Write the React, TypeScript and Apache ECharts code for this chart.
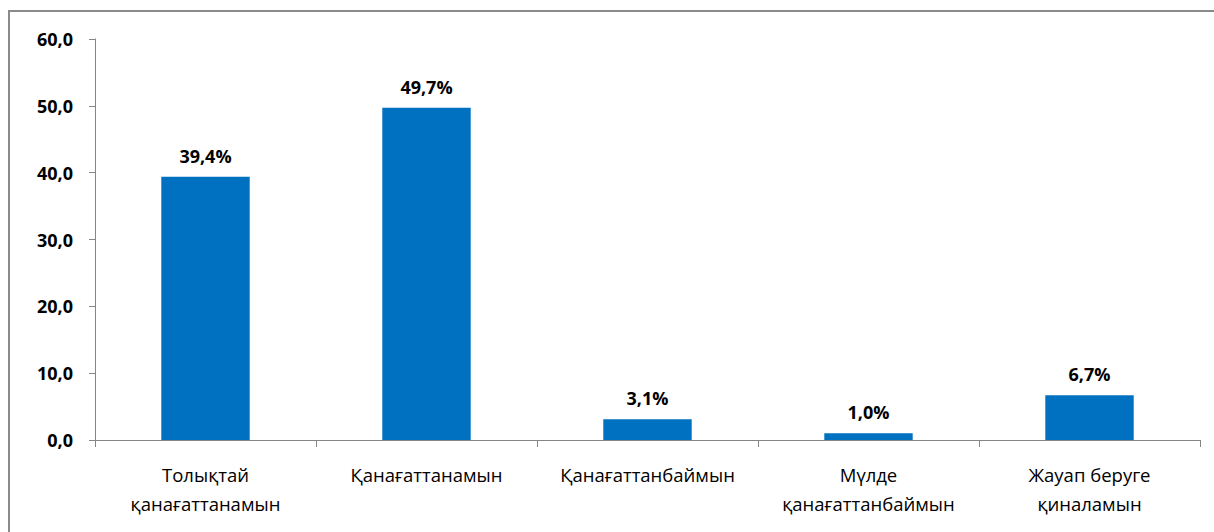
import React, { useEffect, useRef } from "react";
import * as echarts from "echarts";

const categories = [
  "Толықтай\nқанағаттанамын",
  "Қанағаттанамын",
  "Қанағаттанбаймын",
  "Мүлде\nқанағаттанбаймын",
  "Жауап беруге\nқиналамын",
];
const values = [39.4, 49.7, 3.1, 1.0, 6.7];
const yMin = 0;
const yMax = 60;
const yInterval = 10;

export default function App() {
  const ref = useRef<HTMLDivElement>(null);
  useEffect(() => {
    if (!ref.current) return;
    const chart = echarts.init(ref.current, undefined, { renderer: "svg" });
    const font = "'Open Sans', 'Noto Sans', sans-serif";
    chart.setOption({
      animation: false,
      backgroundColor: "#ffffff",
      textStyle: { fontFamily: font },
      graphic: [
        {
          type: "rect",
          shape: { x: 9, y: 11, width: 1220, height: 540 },
          style: { fill: "none", stroke: "#8a8a8a", lineWidth: 2 },
          silent: true,
        },
      ],
      grid: { left: 95, right: 14, top: 39, bottom: 92 },
      xAxis: {
        type: "category",
        data: categories,
        axisLine: { lineStyle: { color: "#868686", width: 1 } },
        axisTick: { show: true, length: 7, lineStyle: { color: "#868686" } },
        axisLabel: {
          interval: 0,
          hideOverlap: false,
          color: "#000",
          fontSize: 18.5,
          lineHeight: 29,
          margin: 20,
          fontFamily: font,
          verticalAlign: "top",
        },
      },
      yAxis: {
        type: "value",
        min: yMin,
        max: yMax,
        interval: yInterval,
        axisLine: { show: true, lineStyle: { color: "#868686", width: 1 } },
        axisTick: { show: true, length: 6, lineStyle: { color: "#868686" } },
        splitLine: { show: false },
        axisLabel: {
          color: "#000",
          fontSize: 18,
          fontWeight: "bold",
          margin: 22,
          fontFamily: font,
          formatter: (v: number) => v.toFixed(1).replace(".", ","),
        },
      },
      series: [
        {
          type: "bar",
          data: values,
          barWidth: "40%",
          itemStyle: { color: "#0070C0" },
          label: {
            show: true,
            position: "top",
            distance: 12,
            color: "#000",
            fontSize: 18,
            fontWeight: "bold",
            fontFamily: font,
            formatter: (p: any) => p.value.toFixed(1).replace(".", ",") + "%",
          },
        },
      ],
    });
    return () => chart.dispose();
  }, []);
  return (
    <div
      ref={ref}
      style={{ position: "fixed", left: 0, top: 0, width: 1214, height: 532 }}
    />
  );
}
